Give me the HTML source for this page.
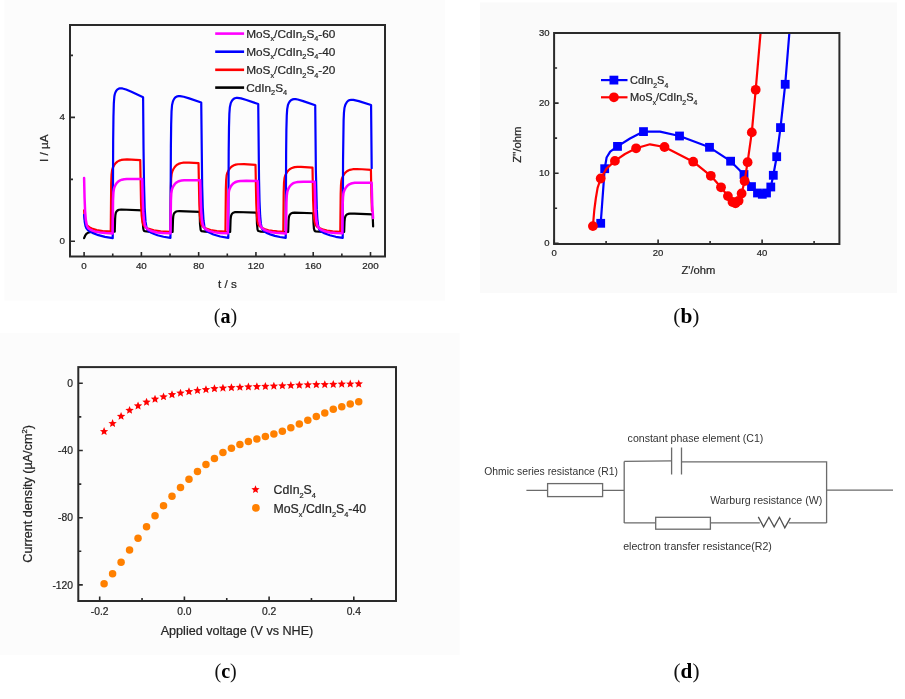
<!DOCTYPE html>
<html><head><meta charset="utf-8"><title>Figure</title>
<style>html,body{margin:0;padding:0;background:#fff;}svg{display:block;will-change:transform;} text.t{stroke:#262626;stroke-width:0.22px;}</style>
</head><body>
<svg width="905" height="699" viewBox="0 0 905 699">
<rect x="4.5" y="0" width="440.5" height="300.5" fill="#fcfcfc"/>
<rect x="480" y="2.5" width="417" height="290.5" fill="#fafafa"/>
<rect x="0" y="333" width="459.5" height="322" fill="#fcfcfc"/>
<text transform="translate(225.5 322.8) scale(0.94 1)" text-anchor="middle" font-family='"Liberation Serif", serif' font-size="21.4" fill="#111">(<tspan font-weight="bold" fill="#000">a</tspan>)</text>
<text transform="translate(686.4 322.7) scale(1 1)" text-anchor="middle" font-family='"Liberation Serif", serif' font-size="21.4" fill="#111">(<tspan font-weight="bold" fill="#000">b</tspan>)</text>
<text transform="translate(225.6 677.7) scale(0.94 1)" text-anchor="middle" font-family='"Liberation Serif", serif' font-size="21.4" fill="#111">(<tspan font-weight="bold" fill="#000">c</tspan>)</text>
<text transform="translate(686.5 677.7) scale(0.99 1)" text-anchor="middle" font-family='"Liberation Serif", serif' font-size="21.4" fill="#111">(<tspan font-weight="bold" fill="#000">d</tspan>)</text>
<g fill="none" stroke-width="2.2" stroke-linejoin="round" stroke-linecap="round">
<path d="M84.1,238.2 85.13,235.72 86.36,233.97 87.85,232.83 89.8,232.15 95.07,231.74 114.74,231.7 115.12,218.56 115.37,215.22 115.78,212.97 116.46,211.48 117.61,210.38 119.1,209.76 121.22,209.5 142.53,210.28 142.93,224.19 143.18,227.69 143.56,229.88 143.96,230.74 144.59,231.17 148.77,231.72 156.16,231.95 172.6,232 173,219.3 173.28,216.19 173.69,214.31 174.46,212.83 175.66,211.8 177.24,211.25 179.47,211.04 199.66,211.8 200.03,224.17 200.64,229.77 201.01,230.66 201.61,231.14 205.19,231.66 212.75,231.95 230.16,232 230.56,220 230.85,217.03 231.25,215.21 232,213.79 233.17,212.77 234.69,212.2 236.84,211.98 256.66,212.71 257,223.95 257.54,229.49 257.89,230.5 258.37,231.03 260.95,231.55 268.89,231.93 288.16,232.01 288.53,220.9 288.82,217.8 289.22,215.91 289.94,214.49 291.08,213.44 292.54,212.85 294.55,212.61 313.22,213.26 313.51,222.98 313.94,228.59 314.57,230.69 315.05,231.09 315.94,231.34 319.29,231.7 323.99,231.9 344.15,232.01 344.52,221.57 344.81,218.63 345.18,216.9 345.84,215.53 346.84,214.52 348.13,213.89 349.88,213.58 354.32,213.56 372.65,214.34 373.12,226.51" stroke="#000"/>
<path d="M84.1,210.32 84.64,217.54 85.33,221.84 86.31,224.41 87.97,226.26 89.71,227.44 91.83,228.52 96.7,230.13 102.72,231.13 110.74,231.69 111.19,183.87 111.54,174.61 112.08,170.07 112.85,167.71 114.2,165.14 115.69,163.17 117.38,161.66 119.21,160.63 121.33,159.94 123.85,159.55 127,159.43 140.23,160.22 141.06,204.05 141.64,215.43 142.41,221.97 143.38,225.01 144.1,226.04 145.1,226.93 146.79,227.96 148.91,228.92 153.84,230.35 160.74,231.32 170.45,231.81 170.88,187.63 171.19,178.44 171.68,173.7 172.25,171.59 173.31,169.27 174.6,167.24 176.06,165.6 177.58,164.43 179.3,163.57 181.28,162.99 183.6,162.64 189.07,162.57 198.52,163.2 199.32,204.2 199.86,215.09 200.58,221.51 201.47,224.65 202.1,225.71 202.93,226.57 204.33,227.55 206.19,228.5 210.57,230 216.88,231.1 225.44,231.7 225.87,188.81 226.18,179.87 226.64,175.38 227.19,173.3 228.16,171.09 229.42,169.02 230.82,167.37 232.25,166.19 233.89,165.29 235.75,164.65 237.93,164.26 244.05,164.12 255.51,164.92 256.26,203.12 256.74,213.71 257.4,220.57 258.17,223.98 259.32,225.99 261.58,227.69 265.13,229.27 268.54,230.23 272.55,230.94 277.33,231.42 283.29,231.73 283.69,192.26 284.01,182.94 284.47,178.29 284.98,176.24 285.84,174.22 287.01,172.18 288.33,170.51 289.68,169.28 291.17,168.35 292.86,167.66 294.78,167.19 297.5,166.91 300.93,166.88 312.5,167.64 313.13,200.58 313.54,210.8 314.05,218.02 314.62,222.05 315.4,224.6 316.54,226.24 318.55,227.68 322.38,229.36 327.02,230.54 332.75,231.3 340.28,231.73 340.69,193.89 340.97,185.43 341.37,180.94 341.75,179.15 342.38,177.37 343.38,175.37 344.52,173.63 345.67,172.32 346.93,171.26 348.33,170.43 349.88,169.81 352.86,169.21 356.75,169.03 362.05,169.24 370.93,169.92 371.36,194.23 371.93,210.8" stroke="#ff0000"/>
<path d="M84.1,214.97 84.67,221.48 85.42,225.77 86.42,228.38 88.02,230.2 89.91,231.48 92.55,232.88 98.42,235.19 104.98,236.87 112.74,238.07 113.17,140.57 113.46,116.66 113.83,103.25 114.34,96.52 114.72,94.45 115.26,92.7 116.12,91 117.21,89.64 118.41,88.78 119.79,88.33 122.42,88.44 126.09,89.56 131.41,91.83 143.1,97.24 143.53,148.81 144.04,184.84 144.67,207.85 145.53,221.64 146.48,227.42 147.11,229.16 147.97,230.48 149.26,231.59 151.35,232.78 154.27,234.07 157.5,235.22 163.49,236.77 170.45,237.92 170.88,146.59 171.17,124.14 171.54,111.46 172.05,105 172.97,101.16 173.83,99.37 174.86,97.94 176.03,96.92 177.35,96.3 178.58,96.06 180.02,96.05 183.74,96.72 189.15,98.38 201.24,102.55 202.15,185.17 202.76,207.27 203.53,220.52 204.42,226.74 204.99,228.63 205.73,230.03 206.71,231.08 208.2,232.09 213.44,234.46 220.23,236.46 228.3,237.88 228.7,151.17 228.99,127.28 229.36,113.83 229.85,107.26 230.68,103.41 231.45,101.63 232.43,100.13 233.51,99.04 234.75,98.31 235.98,97.96 237.41,97.86 241.08,98.42 246.43,100.01 258.23,104.04 259.03,179.54 259.52,200.91 260.15,215.7 260.87,223.7 261.84,228.27 262.47,229.65 263.3,230.72 264.45,231.63 266.19,232.63 270.26,234.4 274.84,235.87 279.94,237.03 285.73,237.93 286.13,151.98 286.38,129.94 286.76,115.61 287.19,109.17 287.9,105.23 288.53,103.53 289.39,101.97 290.34,100.79 291.42,99.92 292.66,99.38 294.09,99.13 295.75,99.19 297.78,99.54 303.2,101.13 315.22,105.33 315.88,171.22 316.8,209.14 317.37,219.07 318.09,225.25 319.06,228.87 319.75,230.09 320.64,231.04 322.1,232.04 324.3,233.17 329.8,235.27 335.79,236.8 342.72,237.93 343.06,159.84 343.61,120.39 343.98,112.26 344.49,107.75 345.41,104.58 346.93,101.99 348.19,100.79 349.62,100.06 351.31,99.75 353.34,99.83 358.79,101.09 371.07,104.99 371.69,168.12" stroke="#0000ff"/>
<path d="M84.1,178.1 84.56,197.76 85.1,211.1 85.79,219.76 86.73,224.97 87.34,226.57 88.08,227.78 89.08,228.78 90.46,229.7 92.41,230.64 94.7,231.44 100.14,232.57 105.49,233.09 112.6,233.38 113.06,199.39 113.4,192.52 114,188.58 114.77,186.41 115.89,184.28 117.15,182.59 118.58,181.28 120.13,180.35 121.96,179.68 124.17,179.24 126.92,178.99 142.24,179.06 142.7,198.32 143.24,211.4 143.9,219.65 144.82,224.82 145.39,226.41 146.08,227.6 146.99,228.59 148.25,229.5 150.06,230.43 152.21,231.24 157.28,232.42 162.89,233.04 170.45,233.37 170.91,200.38 171.25,193.69 171.82,189.92 172.57,187.77 173.66,185.66 174.89,183.96 176.26,182.65 177.78,181.69 179.53,181 181.59,180.54 184.17,180.26 189.58,180.13 200.24,180.3 200.66,198.14 201.18,210.78 201.84,219.33 202.7,224.47 203.82,227.24 204.62,228.25 205.65,229.11 209.11,230.86 213.61,232.12 219.54,232.93 227.73,233.36 228.19,200.87 228.53,194.27 229.08,190.65 229.76,188.6 230.79,186.52 231.97,184.82 233.29,183.47 234.72,182.49 236.38,181.76 238.33,181.25 240.67,180.94 246.29,180.75 257.66,180.92 258.55,209.92 259.15,218.35 259.92,223.67 260.87,226.58 262.3,228.5 264.9,230.17 268.63,231.55 271.86,232.28 275.64,232.8 286.01,233.38 286.44,202.52 286.79,195.48 287.3,191.8 287.9,189.88 288.88,187.8 289.96,186.11 291.2,184.73 292.51,183.71 294,182.93 295.75,182.37 297.81,181.99 303.4,181.69 314.65,181.82 315.43,207.96 315.91,215.97 316.51,221.53 317.23,224.96 318.17,227.17 319.61,228.77 321.93,230.18 325.51,231.51 329.83,232.44 335.19,233.03 342.29,233.36 342.69,204.2 343.01,197.07 343.46,193.25 343.95,191.43 344.7,189.62 345.67,187.87 346.76,186.4 347.87,185.31 349.13,184.43 350.54,183.76 352.17,183.26 354.78,182.84 358.24,182.64 371.65,182.77 372.28,205.11 373.08,218.11" stroke="#ff00ff" stroke-width="2.5"/>
</g>
<path d="M84.1 256.5 V252 M112.74 256.5 V253.5 M141.38 256.5 V252 M170.02 256.5 V253.5 M198.66 256.5 V252 M227.3 256.5 V253.5 M255.94 256.5 V252 M284.58 256.5 V253.5 M313.22 256.5 V252 M341.86 256.5 V253.5 M370.5 256.5 V252 M70 241.3 H75 M70 179.34 H73 M70 117.38 H75 M70 55.42 H73" stroke="#2a2a2a" stroke-width="1.6" fill="none"/>
<rect x="70" y="25" width="315" height="231.5" stroke="#2a2a2a" stroke-width="2" fill="none"/>
<text class="t" x="84.1" y="269.2" font-family='"Liberation Sans", sans-serif' font-size="9.8" fill="#262626" text-anchor="middle">0</text>
<text class="t" x="141.38" y="269.2" font-family='"Liberation Sans", sans-serif' font-size="9.8" fill="#262626" text-anchor="middle">40</text>
<text class="t" x="198.66" y="269.2" font-family='"Liberation Sans", sans-serif' font-size="9.8" fill="#262626" text-anchor="middle">80</text>
<text class="t" x="255.94" y="269.2" font-family='"Liberation Sans", sans-serif' font-size="9.8" fill="#262626" text-anchor="middle">120</text>
<text class="t" x="313.22" y="269.2" font-family='"Liberation Sans", sans-serif' font-size="9.8" fill="#262626" text-anchor="middle">160</text>
<text class="t" x="370.5" y="269.2" font-family='"Liberation Sans", sans-serif' font-size="9.8" fill="#262626" text-anchor="middle">200</text>
<text class="t" x="65" y="244.4" font-family='"Liberation Sans", sans-serif' font-size="9.8" fill="#262626" text-anchor="end">0</text>
<text class="t" x="65" y="120.48" font-family='"Liberation Sans", sans-serif' font-size="9.8" fill="#262626" text-anchor="end">4</text>
<text class="t" x="227.5" y="288" font-family='"Liberation Sans", sans-serif' font-size="11.7" fill="#262626" text-anchor="middle">t / s</text>
<text class="t" transform="translate(47.6 148.3) rotate(-90)" font-family='"Liberation Sans", sans-serif' font-size="11.7" fill="#262626" text-anchor="middle">I / &#181;A</text>
<path d="M215.2 33.6 H244.1" stroke="#ff00ff" stroke-width="2.6"/>
<text class="t" x="246.2" y="37.5" font-family='"Liberation Sans", sans-serif' font-size="11.8" fill="#262626" text-anchor="start"><tspan>MoS</tspan><tspan font-size="7.32" dy="3.89">x</tspan><tspan dy="-3.89">/CdIn</tspan><tspan font-size="7.32" dy="3.89">2</tspan><tspan dy="-3.89">S</tspan><tspan font-size="7.32" dy="3.89">4</tspan><tspan dy="-3.89">-60</tspan></text>
<path d="M215.2 51.7 H244.1" stroke="#0000ff" stroke-width="2.6"/>
<text class="t" x="246.2" y="55.6" font-family='"Liberation Sans", sans-serif' font-size="11.8" fill="#262626" text-anchor="start"><tspan>MoS</tspan><tspan font-size="7.32" dy="3.89">x</tspan><tspan dy="-3.89">/CdIn</tspan><tspan font-size="7.32" dy="3.89">2</tspan><tspan dy="-3.89">S</tspan><tspan font-size="7.32" dy="3.89">4</tspan><tspan dy="-3.89">-40</tspan></text>
<path d="M215.2 69.8 H244.1" stroke="#ff0000" stroke-width="2.6"/>
<text class="t" x="246.2" y="73.7" font-family='"Liberation Sans", sans-serif' font-size="11.8" fill="#262626" text-anchor="start"><tspan>MoS</tspan><tspan font-size="7.32" dy="3.89">x</tspan><tspan dy="-3.89">/CdIn</tspan><tspan font-size="7.32" dy="3.89">2</tspan><tspan dy="-3.89">S</tspan><tspan font-size="7.32" dy="3.89">4</tspan><tspan dy="-3.89">-20</tspan></text>
<path d="M215.2 87.6 H244.1" stroke="#000000" stroke-width="2.6"/>
<text class="t" x="246.2" y="91.5" font-family='"Liberation Sans", sans-serif' font-size="11.8" fill="#262626" text-anchor="start"><tspan>CdIn</tspan><tspan font-size="7.32" dy="3.89">2</tspan><tspan dy="-3.89">S</tspan><tspan font-size="7.32" dy="3.89">4</tspan></text>
<defs><clipPath id="cb"><rect x="554.1" y="33" width="285.29999999999995" height="211.0"/></clipPath></defs>
<g clip-path="url(#cb)">
<path d="M600.7,223.3 604.7,168.7 606.6,157.5 610.2,151.7 617.5,146.4 630,138.5 643.5,131.6 660,131.6 679.5,136 709.5,147.3 730.6,161.2 744,174.5 751.5,186.6 757.5,193 762.3,194.3 766.5,193 770.8,187 773.3,175.3 776.7,156.7 780.5,127.6 785.2,84.3 789.6,30" stroke="#0000ff" stroke-width="2.2" fill="none" stroke-linejoin="round"/>
<rect x="596.3" y="218.9" width="8.8" height="8.8" fill="#0000ff"/>
<rect x="600.3" y="164.3" width="8.8" height="8.8" fill="#0000ff"/>
<rect x="613.1" y="142" width="8.8" height="8.8" fill="#0000ff"/>
<rect x="639.1" y="127.2" width="8.8" height="8.8" fill="#0000ff"/>
<rect x="675.1" y="131.6" width="8.8" height="8.8" fill="#0000ff"/>
<rect x="705.1" y="142.9" width="8.8" height="8.8" fill="#0000ff"/>
<rect x="726.2" y="156.8" width="8.8" height="8.8" fill="#0000ff"/>
<rect x="739.6" y="170.1" width="8.8" height="8.8" fill="#0000ff"/>
<rect x="747.1" y="182.2" width="8.8" height="8.8" fill="#0000ff"/>
<rect x="753.1" y="188.6" width="8.8" height="8.8" fill="#0000ff"/>
<rect x="757.9" y="189.9" width="8.8" height="8.8" fill="#0000ff"/>
<rect x="762.1" y="188.6" width="8.8" height="8.8" fill="#0000ff"/>
<rect x="766.4" y="182.6" width="8.8" height="8.8" fill="#0000ff"/>
<rect x="768.9" y="170.9" width="8.8" height="8.8" fill="#0000ff"/>
<rect x="772.3" y="152.3" width="8.8" height="8.8" fill="#0000ff"/>
<rect x="776.1" y="123.2" width="8.8" height="8.8" fill="#0000ff"/>
<rect x="780.8" y="79.9" width="8.8" height="8.8" fill="#0000ff"/>
<path d="M592.9,226.1 594.3,210 595.8,198.5 597.6,187.9 600.7,178.5 606.5,168.6 614.9,160.9 625,154 636.1,148.3 650,144.3 664.5,147 693.2,161.7 710.8,175.8 721,187.3 727.9,196.1 732.5,202 735.5,203.3 738.6,200.8 741.6,193.5 744.6,181 747.6,162.2 751.8,132.4 755.7,89.8 760.8,30" stroke="#ff0000" stroke-width="2.2" fill="none" stroke-linejoin="round"/>
<circle cx="592.9" cy="226.1" r="4.9" fill="#ff0000"/>
<circle cx="600.7" cy="178.5" r="4.9" fill="#ff0000"/>
<circle cx="614.9" cy="160.9" r="4.9" fill="#ff0000"/>
<circle cx="636.1" cy="148.3" r="4.9" fill="#ff0000"/>
<circle cx="664.5" cy="147" r="4.9" fill="#ff0000"/>
<circle cx="693.2" cy="161.7" r="4.9" fill="#ff0000"/>
<circle cx="710.8" cy="175.8" r="4.9" fill="#ff0000"/>
<circle cx="721" cy="187.3" r="4.9" fill="#ff0000"/>
<circle cx="727.9" cy="196.1" r="4.9" fill="#ff0000"/>
<circle cx="732.5" cy="202" r="4.9" fill="#ff0000"/>
<circle cx="735.5" cy="203.3" r="4.9" fill="#ff0000"/>
<circle cx="738.6" cy="200.8" r="4.9" fill="#ff0000"/>
<circle cx="741.6" cy="193.5" r="4.9" fill="#ff0000"/>
<circle cx="744.6" cy="181" r="4.9" fill="#ff0000"/>
<circle cx="747.6" cy="162.2" r="4.9" fill="#ff0000"/>
<circle cx="751.8" cy="132.4" r="4.9" fill="#ff0000"/>
<circle cx="755.7" cy="89.8" r="4.9" fill="#ff0000"/>
</g>
<path d="M554.1 244 V239.5 M606.1 244 V241 M658.1 244 V239.5 M710.1 244 V241 M762.1 244 V239.5 M814.1 244 V241 M554.1 243.3 H558.6 M554.1 208.25 H557.1 M554.1 173.2 H558.6 M554.1 138.15 H557.1 M554.1 103.1 H558.6 M554.1 68.05 H557.1 M554.1 33 H558.6" stroke="#2a2a2a" stroke-width="1.6" fill="none"/>
<rect x="554.1" y="33" width="285.3" height="211" stroke="#2a2a2a" stroke-width="2" fill="none"/>
<text class="t" x="554.1" y="256.3" font-family='"Liberation Sans", sans-serif' font-size="9.5" fill="#262626" text-anchor="middle">0</text>
<text class="t" x="658.1" y="256.3" font-family='"Liberation Sans", sans-serif' font-size="9.5" fill="#262626" text-anchor="middle">20</text>
<text class="t" x="762.1" y="256.3" font-family='"Liberation Sans", sans-serif' font-size="9.5" fill="#262626" text-anchor="middle">40</text>
<text class="t" x="549.6" y="246.1" font-family='"Liberation Sans", sans-serif' font-size="9.5" fill="#262626" text-anchor="end">0</text>
<text class="t" x="549.6" y="176" font-family='"Liberation Sans", sans-serif' font-size="9.5" fill="#262626" text-anchor="end">10</text>
<text class="t" x="549.6" y="105.9" font-family='"Liberation Sans", sans-serif' font-size="9.5" fill="#262626" text-anchor="end">20</text>
<text class="t" x="549.6" y="35.8" font-family='"Liberation Sans", sans-serif' font-size="9.5" fill="#262626" text-anchor="end">30</text>
<text class="t" x="698.4" y="273.9" font-family='"Liberation Sans", sans-serif' font-size="11.2" fill="#262626" text-anchor="middle">Z'/ohm</text>
<text class="t" transform="translate(521.4 144.7) rotate(-90)" font-family='"Liberation Sans", sans-serif' font-size="11.3" fill="#262626" text-anchor="middle">Z&#39;&#39;/ohm</text>
<path d="M601 80.1 H627.5" stroke="#0000ff" stroke-width="2.2"/><rect x="609.5" y="75.7" width="8.8" height="8.8" fill="#0000ff"/>
<path d="M601 97.3 H627.5" stroke="#ff0000" stroke-width="2.2"/><circle cx="613.9" cy="97.3" r="4.9" fill="#ff0000"/>
<text class="t" x="630" y="84" font-family='"Liberation Sans", sans-serif' font-size="11" fill="#262626" text-anchor="start"><tspan>CdIn</tspan><tspan font-size="6.82" dy="3.63">2</tspan><tspan dy="-3.63">S</tspan><tspan font-size="6.82" dy="3.63">4</tspan></text>
<text class="t" x="630" y="101.2" font-family='"Liberation Sans", sans-serif' font-size="11" fill="#262626" text-anchor="start"><tspan>MoS</tspan><tspan font-size="6.82" dy="3.63">x</tspan><tspan dy="-3.63">/CdIn</tspan><tspan font-size="6.82" dy="3.63">2</tspan><tspan dy="-3.63">S</tspan><tspan font-size="6.82" dy="3.63">4</tspan></text>
<circle cx="104.1" cy="583.7" r="3.75" fill="#ff8000"/>
<circle cx="112.59" cy="573.7" r="3.75" fill="#ff8000"/>
<circle cx="121.08" cy="562.2" r="3.75" fill="#ff8000"/>
<circle cx="129.56" cy="550.1" r="3.75" fill="#ff8000"/>
<circle cx="138.05" cy="538.2" r="3.75" fill="#ff8000"/>
<circle cx="146.54" cy="526.8" r="3.75" fill="#ff8000"/>
<circle cx="155.03" cy="515.8" r="3.75" fill="#ff8000"/>
<circle cx="163.52" cy="505.7" r="3.75" fill="#ff8000"/>
<circle cx="172" cy="496.3" r="3.75" fill="#ff8000"/>
<circle cx="180.49" cy="487.4" r="3.75" fill="#ff8000"/>
<circle cx="188.98" cy="479.2" r="3.75" fill="#ff8000"/>
<circle cx="197.47" cy="471.4" r="3.75" fill="#ff8000"/>
<circle cx="205.96" cy="464.5" r="3.75" fill="#ff8000"/>
<circle cx="214.44" cy="458.4" r="3.75" fill="#ff8000"/>
<circle cx="222.93" cy="452.6" r="3.75" fill="#ff8000"/>
<circle cx="231.42" cy="448.3" r="3.75" fill="#ff8000"/>
<circle cx="239.91" cy="444.5" r="3.75" fill="#ff8000"/>
<circle cx="248.4" cy="441.5" r="3.75" fill="#ff8000"/>
<circle cx="256.88" cy="438.9" r="3.75" fill="#ff8000"/>
<circle cx="265.37" cy="436.6" r="3.75" fill="#ff8000"/>
<circle cx="273.86" cy="434.1" r="3.75" fill="#ff8000"/>
<circle cx="282.35" cy="431.2" r="3.75" fill="#ff8000"/>
<circle cx="290.84" cy="427.8" r="3.75" fill="#ff8000"/>
<circle cx="299.32" cy="424" r="3.75" fill="#ff8000"/>
<circle cx="307.81" cy="420.2" r="3.75" fill="#ff8000"/>
<circle cx="316.3" cy="416.5" r="3.75" fill="#ff8000"/>
<circle cx="324.79" cy="412.9" r="3.75" fill="#ff8000"/>
<circle cx="333.28" cy="409.3" r="3.75" fill="#ff8000"/>
<circle cx="341.76" cy="406.7" r="3.75" fill="#ff8000"/>
<circle cx="350.25" cy="404.1" r="3.75" fill="#ff8000"/>
<circle cx="358.74" cy="401.8" r="3.75" fill="#ff8000"/>
<path d="M104.1,427.1 105.26,429.9 108.28,430.14 105.98,432.11 106.69,435.06 104.1,433.48 101.51,435.06 102.22,432.11 99.92,430.14 102.94,429.9ZM112.59,419.1 113.75,421.9 116.77,422.14 114.47,424.11 115.17,427.06 112.59,425.48 110,427.06 110.7,424.11 108.4,422.14 111.42,421.9ZM121.08,411.9 122.24,414.7 125.26,414.94 122.96,416.91 123.66,419.86 121.08,418.28 118.49,419.86 119.19,416.91 116.89,414.94 119.91,414.7ZM129.56,405.9 130.73,408.7 133.75,408.94 131.45,410.91 132.15,413.86 129.56,412.28 126.98,413.86 127.68,410.91 125.38,408.94 128.4,408.7ZM138.05,401.5 139.22,404.3 142.24,404.54 139.94,406.51 140.64,409.46 138.05,407.88 135.47,409.46 136.17,406.51 133.87,404.54 136.89,404.3ZM146.54,397.8 147.7,400.6 150.72,400.84 148.42,402.81 149.13,405.76 146.54,404.18 143.95,405.76 144.66,402.81 142.36,400.84 145.38,400.6ZM155.03,394.8 156.19,397.6 159.21,397.84 156.91,399.81 157.61,402.76 155.03,401.18 152.44,402.76 153.14,399.81 150.84,397.84 153.86,397.6ZM163.52,392.4 164.68,395.2 167.7,395.44 165.4,397.41 166.1,400.36 163.52,398.78 160.93,400.36 161.63,397.41 159.33,395.44 162.35,395.2ZM172,390.3 173.17,393.1 176.19,393.34 173.89,395.31 174.59,398.26 172,396.68 169.42,398.26 170.12,395.31 167.82,393.34 170.84,393.1ZM180.49,388.7 181.66,391.5 184.68,391.74 182.38,393.71 183.08,396.66 180.49,395.08 177.91,396.66 178.61,393.71 176.31,391.74 179.33,391.5ZM188.98,387.3 190.14,390.1 193.16,390.34 190.86,392.31 191.57,395.26 188.98,393.68 186.39,395.26 187.1,392.31 184.8,390.34 187.82,390.1ZM197.47,386.1 198.63,388.9 201.65,389.14 199.35,391.11 200.05,394.06 197.47,392.48 194.88,394.06 195.58,391.11 193.28,389.14 196.3,388.9ZM205.96,385.2 207.12,388 210.14,388.24 207.84,390.21 208.54,393.16 205.96,391.58 203.37,393.16 204.07,390.21 201.77,388.24 204.79,388ZM214.44,384.3 215.61,387.1 218.63,387.34 216.33,389.31 217.03,392.26 214.44,390.68 211.86,392.26 212.56,389.31 210.26,387.34 213.28,387.1ZM222.93,383.7 224.1,386.5 227.12,386.74 224.82,388.71 225.52,391.66 222.93,390.08 220.35,391.66 221.05,388.71 218.75,386.74 221.77,386.5ZM231.42,383.3 232.58,386.1 235.6,386.34 233.3,388.31 234.01,391.26 231.42,389.68 228.83,391.26 229.54,388.31 227.24,386.34 230.26,386.1ZM239.91,382.9 241.07,385.7 244.09,385.94 241.79,387.91 242.49,390.86 239.91,389.28 237.32,390.86 238.02,387.91 235.72,385.94 238.74,385.7ZM248.4,382.5 249.56,385.3 252.58,385.54 250.28,387.51 250.98,390.46 248.4,388.88 245.81,390.46 246.51,387.51 244.21,385.54 247.23,385.3ZM256.88,382.3 258.05,385.1 261.07,385.34 258.77,387.31 259.47,390.26 256.88,388.68 254.3,390.26 255,387.31 252.7,385.34 255.72,385.1ZM265.37,382 266.54,384.8 269.56,385.04 267.26,387.01 267.96,389.96 265.37,388.38 262.79,389.96 263.49,387.01 261.19,385.04 264.21,384.8ZM273.86,381.7 275.02,384.5 278.04,384.74 275.74,386.71 276.45,389.66 273.86,388.08 271.27,389.66 271.98,386.71 269.68,384.74 272.7,384.5ZM282.35,381.4 283.51,384.2 286.53,384.44 284.23,386.41 284.93,389.36 282.35,387.78 279.76,389.36 280.46,386.41 278.16,384.44 281.18,384.2ZM290.84,381.1 292,383.9 295.02,384.14 292.72,386.11 293.42,389.06 290.84,387.48 288.25,389.06 288.95,386.11 286.65,384.14 289.67,383.9ZM299.32,380.8 300.49,383.6 303.51,383.84 301.21,385.81 301.91,388.76 299.32,387.18 296.74,388.76 297.44,385.81 295.14,383.84 298.16,383.6ZM307.81,380.5 308.98,383.3 312,383.54 309.7,385.51 310.4,388.46 307.81,386.88 305.23,388.46 305.93,385.51 303.63,383.54 306.65,383.3ZM316.3,380.3 317.46,383.1 320.48,383.34 318.18,385.31 318.89,388.26 316.3,386.68 313.71,388.26 314.42,385.31 312.12,383.34 315.14,383.1ZM324.79,380.2 325.95,383 328.97,383.24 326.67,385.21 327.37,388.16 324.79,386.58 322.2,388.16 322.9,385.21 320.6,383.24 323.62,383ZM333.28,380 334.44,382.8 337.46,383.04 335.16,385.01 335.86,387.96 333.28,386.38 330.69,387.96 331.39,385.01 329.09,383.04 332.11,382.8ZM341.76,379.7 342.93,382.5 345.95,382.74 343.65,384.71 344.35,387.66 341.76,386.08 339.18,387.66 339.88,384.71 337.58,382.74 340.6,382.5ZM350.25,379.6 351.42,382.4 354.44,382.64 352.14,384.61 352.84,387.56 350.25,385.98 347.67,387.56 348.37,384.61 346.07,382.64 349.09,382.4ZM358.74,379.5 359.9,382.3 362.92,382.54 360.62,384.51 361.33,387.46 358.74,385.88 356.15,387.46 356.86,384.51 354.56,382.54 357.58,382.3Z" fill="#ff0000"/>
<path d="M99.7 601 V596.5 M142.05 601 V598 M184.4 601 V596.5 M226.75 601 V598 M269.1 601 V596.5 M311.45 601 V598 M353.8 601 V596.5 M78.3 383.3 H82.8 M78.3 416.9 H81.3 M78.3 450.5 H82.8 M78.3 484.1 H81.3 M78.3 517.7 H82.8 M78.3 551.3 H81.3 M78.3 584.9 H82.8" stroke="#2a2a2a" stroke-width="1.6" fill="none"/>
<rect x="78.3" y="367.1" width="317.7" height="233.9" stroke="#2a2a2a" stroke-width="2" fill="none"/>
<text class="t" x="99.7" y="614.8" font-family='"Liberation Sans", sans-serif' font-size="10.3" fill="#262626" text-anchor="middle">-0.2</text>
<text class="t" x="184.4" y="614.8" font-family='"Liberation Sans", sans-serif' font-size="10.3" fill="#262626" text-anchor="middle">0.0</text>
<text class="t" x="269.1" y="614.8" font-family='"Liberation Sans", sans-serif' font-size="10.3" fill="#262626" text-anchor="middle">0.2</text>
<text class="t" x="353.8" y="614.8" font-family='"Liberation Sans", sans-serif' font-size="10.3" fill="#262626" text-anchor="middle">0.4</text>
<text class="t" x="73" y="386.9" font-family='"Liberation Sans", sans-serif' font-size="10.3" fill="#262626" text-anchor="end">0</text>
<text class="t" x="73" y="454.1" font-family='"Liberation Sans", sans-serif' font-size="10.3" fill="#262626" text-anchor="end">-40</text>
<text class="t" x="73" y="521.3" font-family='"Liberation Sans", sans-serif' font-size="10.3" fill="#262626" text-anchor="end">-80</text>
<text class="t" x="73" y="588.5" font-family='"Liberation Sans", sans-serif' font-size="10.3" fill="#262626" text-anchor="end">-120</text>
<text class="t" x="237" y="634.8" font-family='"Liberation Sans", sans-serif' font-size="12.6" fill="#262626" text-anchor="middle">Applied voltage (V vs NHE)</text>
<text class="t" transform="translate(31.5 493.9) rotate(-90)" font-family='"Liberation Sans", sans-serif' font-size="12.6" fill="#262626" text-anchor="middle">Current density (&#181;A/cm<tspan font-size="7.6" dy="-5">2</tspan><tspan dy="5">)</tspan></text>
<path d="M255.5,485.3 256.64,488.03 259.59,488.27 257.34,490.2 258.03,493.08 255.5,491.54 252.97,493.08 253.66,490.2 251.41,488.27 254.36,488.03Z" fill="#ff0000"/>
<circle cx="255.9" cy="507.9" r="3.85" fill="#ff8000"/>
<text class="t" x="273.5" y="493.6" font-family='"Liberation Sans", sans-serif' font-size="12.3" fill="#262626" text-anchor="start"><tspan>CdIn</tspan><tspan font-size="7.38" dy="4.06">2</tspan><tspan dy="-4.06">S</tspan><tspan font-size="7.38" dy="4.06">4</tspan></text>
<text class="t" x="273.5" y="512.5" font-family='"Liberation Sans", sans-serif' font-size="12.3" fill="#262626" text-anchor="start"><tspan>MoS</tspan><tspan font-size="7.38" dy="4.06">x</tspan><tspan dy="-4.06">/CdIn</tspan><tspan font-size="7.38" dy="4.06">2</tspan><tspan dy="-4.06">S</tspan><tspan font-size="7.38" dy="4.06">4</tspan><tspan dy="-4.06">-40</tspan></text>
<g stroke="#6b6b6b" stroke-width="1.3" fill="none">
<path d="M526.4 490.3 H547.6 M602.6 490.3 H624.2 M624.2 461.4 V522.9 M624.2 461.4 L671.6 460.9 M681.5 461.9 H826.6 V522.9 M826.6 490.2 H893 M624.2 522.9 H655.7 M710.4 522.9 H759.8 M788.8 522.9 H826.6"/>
<rect x="547.6" y="483.6" width="55" height="13" fill="#fff"/>
<rect x="655.7" y="517.3" width="54.7" height="11.9" fill="#fff"/>
<path d="M671.6 447.6 V474.5 M681.5 447.6 V474.5"/>
<path d="M758.3 516.9 L763.6 526.9 L768.9 517.3 L774.2 526.9 L779.5 517.3 L784.8 527.9 L790.4 517.9" stroke="#505050"/>
</g>
<text x="484.3" y="474.8" font-family='"Liberation Sans", sans-serif' font-size="11.6" fill="#333" textLength="133.6" lengthAdjust="spacingAndGlyphs">Ohmic series resistance (R1)</text>
<text x="627.6" y="442.1" font-family='"Liberation Sans", sans-serif' font-size="11.6" fill="#333" textLength="135.8" lengthAdjust="spacingAndGlyphs">constant phase element (C1)</text>
<text x="710.2" y="503.8" font-family='"Liberation Sans", sans-serif' font-size="11.6" fill="#333" textLength="112.1" lengthAdjust="spacingAndGlyphs">Warburg resistance (W)</text>
<text x="623.2" y="549.6" font-family='"Liberation Sans", sans-serif' font-size="11.6" fill="#333" textLength="148.7" lengthAdjust="spacingAndGlyphs">electron transfer resistance(R2)</text>
</svg>
</body></html>
